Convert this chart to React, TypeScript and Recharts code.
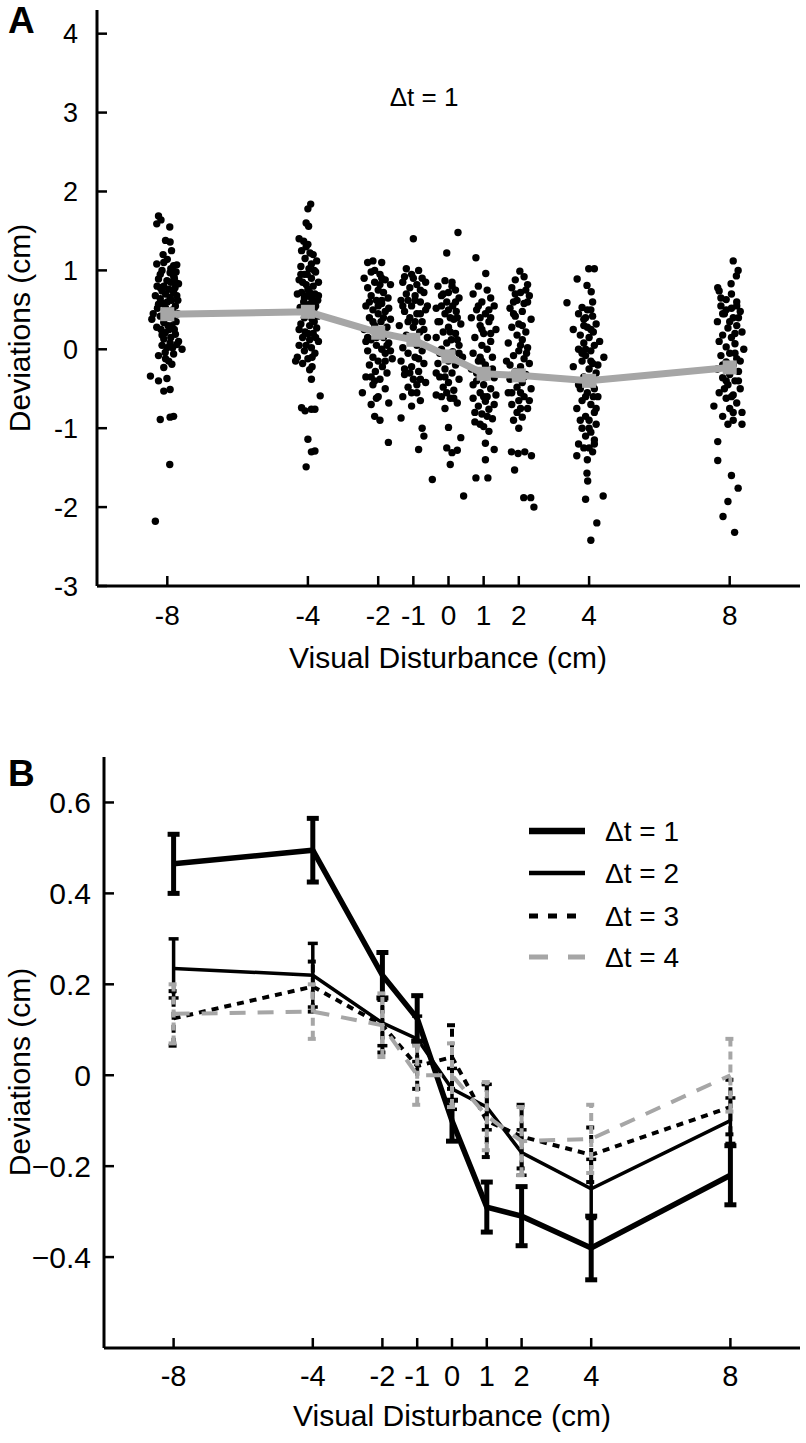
import React from "react";
import { ScatterChart, Scatter, LineChart, Line, XAxis, YAxis, ErrorBar } from "recharts";

const FONT = '"Liberation Sans", Arial, Helvetica, sans-serif';
const GRAY = "#a6a6a6";

const disturbance = [-8, -4, -2, -1, 0, 1, 2, 4, 8];
const yTicksA = [-3, -2, -1, 0, 1, 2, 3, 4];
const yTicksB = [-0.4, -0.2, 0, 0.2, 0.4, 0.6];

// panel A: mean deviation per visual disturbance (grey line)
const meanA = [0.445, 0.475, 0.21, 0.12, -0.09, -0.31, -0.33, -0.4, -0.23];

// panel A: single trials as [jitter, deviation]
const trialsM8 = [
  [-0.25, 1.69], [-0.18, 1.64], [-0.3, 1.59], [0.07, 1.55], [-0.05, 1.38], [0.08, 1.36], [0.12, 1.25], [0.0, 1.14],
  [-0.3, 1.08], [-0.1, 1.1], [0.18, 1.06], [0.27, 1.07], [-0.15, 1.0], [0.08, 0.97], [0.18, 0.93], [-0.25, 0.89],
  [-0.01, 0.87], [0.23, 0.85], [-0.29, 0.8], [-0.1, 0.8], [0.32, 0.83], [-0.15, 0.74], [0.04, 0.76], [0.18, 0.72],
  [-0.34, 0.68], [-0.2, 0.64], [0.08, 0.66], [0.27, 0.68], [-0.25, 0.57], [0.23, 0.55], [0.0, 0.6], [-0.05, 0.52],
  [0.15, 0.5], [-0.4, 0.45], [0.3, 0.45], [-0.44, 0.38], [-0.2, 0.42], [-0.1, 0.34], [0.13, 0.3], [0.25, 0.35],
  [-0.06, 0.21], [0.23, 0.19], [0.05, 0.25], [-0.1, 0.13], [0.08, 0.08], [0.27, 0.06], [-0.01, 0.02], [0.42, 0.0],
  [-0.25, -0.08], [-0.06, -0.04], [0.18, -0.06], [0.04, -0.15], [-0.1, -0.23], [0.13, -0.19], [-0.15, 0.05], [0.1, 0.15],
  [-0.48, -0.34], [-0.25, -0.4], [-0.01, -0.37], [-0.1, -0.53], [0.08, -0.51], [-0.2, -0.89], [0.08, -0.86], [0.18, -0.85],
  [0.07, -1.46], [-0.34, -2.18], [0.2, 0.9], [-0.2, 0.95], [0.1, 0.85], [-0.05, 0.7], [0.3, 0.62], [-0.12, 0.58],
  [0.15, 0.4], [-0.3, 0.28], [0.05, 0.45], [0.2, 0.25], [-0.15, 0.18], [0.32, 0.1], [-0.2, 0.78], [0.12, 0.62],
  [-0.08, 0.48], [0.22, 0.78], [-0.28, 0.52], [0.02, 0.3], [-0.18, 0.25], [0.15, 0.02], [-0.05, -0.12], [0.25, 0.98],
  [-0.12, 1.2], [0.1, 1.02],
];
const trialsM4 = [
  [0.08, 1.84], [0.0, 1.78], [-0.05, 1.6], [0.02, 1.56], [-0.25, 1.4], [-0.12, 1.37], [0.0, 1.33], [-0.18, 1.25],
  [0.06, 1.22], [0.15, 1.2], [-0.08, 1.15], [0.25, 1.12], [0.1, 1.08], [-0.2, 1.05], [0.03, 1.02], [0.22, 0.98],
  [-0.1, 0.95], [0.1, 0.9], [-0.25, 0.88], [0.3, 0.85], [-0.05, 0.82], [0.15, 0.8], [0.0, 0.76], [-0.18, 0.72],
  [0.2, 0.7], [-0.05, 0.68], [0.1, 0.65], [0.28, 0.62], [-0.12, 0.6], [0.05, 0.57], [-0.22, 0.53], [0.18, 0.52],
  [0.0, 0.45], [-0.1, 0.4], [0.12, 0.38], [-0.2, 0.32], [0.05, 0.3], [0.25, 0.27], [-0.08, 0.22], [0.15, 0.2],
  [-0.15, 0.15], [0.05, 0.12], [0.3, 0.1], [-0.25, 0.05], [0.1, 0.02], [-0.1, -0.02], [0.2, -0.05], [-0.3, -0.1],
  [0.0, -0.12], [-0.15, -0.18], [0.12, -0.22], [-0.35, -0.15], [0.05, -0.26], [0.1, -0.38], [0.35, -0.59], [-0.18, -0.74],
  [-0.08, -0.78], [0.1, -0.76], [0.2, -0.76], [0.0, -1.14], [0.1, -1.3], [0.2, -1.29], [-0.05, -1.49], [-0.02, 0.95],
  [0.22, 0.55], [-0.3, 0.7], [0.08, 0.48], [-0.15, 0.85], [0.18, 0.35], [-0.05, 0.05], [0.28, 0.42], [-0.12, 0.5],
  [0.15, 0.62], [-0.25, 0.25], [0.05, 0.72], [0.22, 0.15], [-0.1, 0.65], [0.0, 0.2], [0.3, 0.68], [-0.2, 0.95],
  [0.12, -0.1], [-0.05, 1.3], [0.18, 1.0],
];
const trialsM2 = [
  [-0.3, 1.1], [-0.15, 1.12], [0.1, 1.1], [-0.4, 0.9], [-0.2, 0.98], [0.05, 0.95], [0.2, 0.88], [-0.1, 0.85],
  [0.35, 0.82], [-0.3, 0.78], [0.0, 0.75], [0.15, 0.72], [-0.2, 0.68], [0.28, 0.65], [-0.05, 0.62], [0.1, 0.58],
  [-0.35, 0.55], [-0.15, 0.5], [0.2, 0.48], [0.0, 0.45], [-0.25, 0.4], [0.35, 0.38], [0.08, 0.35], [-0.1, 0.3],
  [0.25, 0.28], [-0.4, 0.25], [0.0, 0.2], [0.15, 0.15], [-0.2, 0.12], [0.3, 0.08], [-0.05, 0.05], [0.1, 0.0],
  [-0.3, -0.02], [0.2, -0.05], [-0.15, -0.1], [0.0, -0.15], [0.4, -0.12], [-0.25, -0.2], [0.12, -0.22], [-0.08, -0.28],
  [0.25, -0.3], [-0.35, -0.35], [0.05, -0.38], [-0.15, -0.45], [0.2, -0.5], [-0.45, -0.55], [0.0, -0.6], [-0.2, -0.7],
  [0.3, -0.68], [-0.1, -0.85], [0.05, -0.9], [0.29, -1.18], [-0.15, 0.35], [0.1, 0.62], [-0.3, 0.15], [0.05, 0.82],
  [-0.1, -0.4], [0.25, 0.05], [-0.25, 0.6], [0.15, 0.4], [-0.05, 0.15], [0.3, 0.52], [-0.35, 0.1], [0.0, 0.55],
  [0.2, -0.15], [-0.2, -0.35], [0.1, 0.9], [-0.1, 1.0], [0.35, -0.02], [-0.05, -0.62],
];
const trialsM1 = [
  [0.0, 1.4], [0.15, 1.0], [-0.2, 1.02], [-0.05, 0.95], [0.25, 0.9], [-0.3, 0.85], [0.1, 0.82], [-0.1, 0.78],
  [0.3, 0.72], [-0.2, 0.7], [0.05, 0.68], [-0.35, 0.62], [0.2, 0.6], [-0.05, 0.55], [0.35, 0.5], [-0.25, 0.48],
  [0.1, 0.45], [-0.1, 0.4], [0.25, 0.35], [-0.4, 0.3], [0.0, 0.28], [0.18, 0.22], [-0.2, 0.18], [0.4, 0.15],
  [-0.05, 0.1], [0.1, 0.05], [-0.3, 0.02], [0.25, -0.02], [-0.15, -0.05], [0.05, -0.1], [-0.35, -0.15], [0.3, -0.18],
  [-0.05, -0.22], [0.15, -0.28], [-0.25, -0.32], [0.0, -0.38], [0.35, -0.42], [-0.15, -0.48], [0.1, -0.55], [-0.3, -0.6],
  [0.2, -0.65], [-0.05, -0.72], [-0.35, -0.87], [0.25, -1.0], [0.3, -1.1], [0.15, -1.27], [0.54, -1.65], [0.2, 0.75],
  [-0.15, 0.62], [0.05, 0.35], [-0.1, -0.3], [0.4, 0.55], [-0.25, 0.92], [0.1, -0.45], [-0.15, 0.35], [0.2, 0.45],
  [-0.3, 0.55], [0.05, 0.62], [0.3, 0.25], [-0.1, 0.15], [0.15, -0.12], [-0.25, -0.25], [0.0, 0.9], [0.35, 0.85],
  [-0.05, -0.55], [0.2, -0.38],
];
const trials0 = [
  [0.27, 1.48], [-0.05, 1.22], [-0.1, 0.87], [0.1, 0.85], [-0.3, 0.8], [0.2, 0.75], [0.0, 0.72], [-0.2, 0.68],
  [0.3, 0.65], [-0.05, 0.6], [0.12, 0.55], [-0.35, 0.52], [0.22, 0.48], [-0.1, 0.45], [0.05, 0.4], [-0.25, 0.35],
  [0.35, 0.32], [0.0, 0.28], [-0.15, 0.22], [0.2, 0.2], [-0.35, 0.15], [0.08, 0.12], [-0.05, 0.08], [0.3, 0.05],
  [-0.2, 0.0], [0.12, -0.03], [-0.1, -0.08], [0.4, -0.1], [0.0, -0.15], [-0.3, -0.18], [0.2, -0.2], [-0.1, -0.25],
  [0.1, -0.3], [-0.25, -0.35], [0.3, -0.38], [0.0, -0.42], [-0.15, -0.48], [0.15, -0.52], [-0.35, -0.58], [0.05, -0.62],
  [0.25, -0.68], [-0.1, -0.75], [0.0, -0.99], [0.35, -1.12], [-0.05, -1.25], [0.1, -1.31], [0.25, -1.28], [0.05, -1.46],
  [0.43, -1.86], [-0.2, 0.55], [0.15, 0.38], [-0.05, -0.55], [0.25, 0.12], [-0.25, -0.05], [-0.15, 0.7], [0.2, 0.6],
  [-0.3, 0.35], [0.05, 0.22], [0.3, -0.05], [-0.1, -0.35], [0.15, -0.62], [-0.2, -0.6], [0.0, 0.5], [0.1, 0.8],
  [-0.35, -0.3], [0.25, 0.4],
];
const trialsP1 = [
  [-0.22, 1.16], [0.06, 0.96], [-0.15, 0.8], [0.1, 0.75], [-0.3, 0.7], [0.2, 0.65], [-0.05, 0.6], [0.3, 0.55],
  [-0.2, 0.5], [0.05, 0.45], [-0.35, 0.4], [0.15, 0.35], [-0.1, 0.3], [0.35, 0.25], [0.0, 0.2], [-0.25, 0.15],
  [0.2, 0.1], [-0.05, 0.05], [0.1, 0.0], [-0.3, -0.05], [0.25, -0.1], [-0.15, -0.15], [0.05, -0.2], [-0.35, -0.25],
  [0.15, -0.28], [-0.05, -0.32], [0.3, -0.36], [-0.2, -0.4], [0.0, -0.45], [0.2, -0.5], [-0.1, -0.55], [0.35, -0.58],
  [-0.3, -0.62], [0.05, -0.66], [-0.15, -0.72], [0.15, -0.76], [-0.05, -0.82], [0.25, -0.88], [-0.25, -0.92], [0.0, -0.98],
  [0.15, -1.04], [0.05, -1.19], [0.3, -1.27], [0.05, -1.4], [-0.22, -1.63], [0.12, -1.63], [-0.1, 0.4], [0.1, -0.6],
  [-0.25, -0.8], [0.2, 0.2], [0.05, -0.35], [-0.1, -0.1], [-0.15, 0.55], [0.15, 0.5], [-0.05, 0.25], [0.25, -0.25],
  [-0.2, -0.3], [0.0, -0.6], [0.3, -0.7], [-0.3, -0.45], [0.1, -0.85], [-0.1, -0.95], [0.2, 0.4], [-0.05, -0.15],
];
const trialsP2 = [
  [0.03, 0.99], [0.15, 0.92], [-0.1, 0.88], [0.25, 0.82], [-0.2, 0.78], [0.05, 0.72], [0.3, 0.68], [-0.05, 0.62],
  [0.15, 0.58], [-0.25, 0.52], [0.1, 0.48], [-0.1, 0.42], [0.35, 0.38], [0.0, 0.32], [-0.2, 0.28], [0.2, 0.22],
  [-0.05, 0.18], [0.1, 0.12], [-0.3, 0.08], [0.25, 0.02], [0.0, -0.02], [-0.15, -0.08], [0.15, -0.12], [-0.35, -0.15],
  [0.3, -0.18], [0.05, -0.22], [-0.1, -0.28], [0.2, -0.32], [-0.25, -0.38], [0.1, -0.42], [-0.05, -0.48], [0.35, -0.5],
  [-0.3, -0.55], [0.15, -0.6], [0.0, -0.65], [-0.2, -0.7], [0.25, -0.75], [-0.05, -0.8], [0.1, -0.86], [-0.15, -0.9],
  [-0.21, -1.3], [-0.02, -1.32], [0.17, -1.3], [0.36, -1.35], [-0.12, -1.53], [0.14, -1.88], [0.34, -1.88], [0.43, -2.0],
  [0.1, 0.3], [-0.15, 0.6], [0.05, -0.55], [0.22, -0.05], [-0.15, 0.45], [0.25, 0.6], [0.05, 0.05], [-0.25, -0.2],
  [0.15, -0.35], [-0.05, -0.35], [0.3, -0.65], [-0.2, -0.55], [0.05, -0.75], [0.2, 0.75], [-0.1, 0.7], [0.0, -1.0],
];
const trialsP4 = [
  [-0.01, 1.02], [0.15, 1.02], [-0.34, 0.89], [-0.06, 0.81], [0.06, 0.73], [-0.63, 0.59], [-0.2, 0.53], [0.05, 0.5],
  [-0.3, 0.45], [0.1, 0.42], [-0.15, 0.38], [0.2, 0.32], [-0.05, 0.28], [-0.45, 0.25], [0.12, 0.22], [-0.25, 0.18],
  [0.0, 0.15], [0.3, 0.1], [-0.15, 0.08], [0.15, 0.05], [-0.3, 0.0], [0.05, -0.02], [-0.1, -0.08], [0.42, -0.1],
  [-0.2, -0.15], [0.1, -0.18], [-0.45, -0.22], [0.0, -0.25], [0.2, -0.3], [-0.15, -0.35], [0.05, -0.4], [-0.3, -0.45],
  [0.15, -0.5], [-0.05, -0.55], [0.25, -0.6], [-0.2, -0.65], [0.05, -0.7], [-0.35, -0.75], [0.15, -0.8], [-0.1, -0.85],
  [0.0, -0.9], [0.2, -0.95], [-0.2, -1.0], [0.05, -1.05], [-0.1, -1.1], [0.15, -1.15], [-0.3, -1.2], [0.0, -1.25],
  [0.1, -1.3], [-0.35, -1.35], [-0.05, -1.4], [-0.06, -1.57], [-0.04, -1.67], [-0.1, -1.9], [0.4, -1.86], [0.22, -2.2],
  [0.05, -2.42], [0.1, 0.6], [-0.1, 0.0], [0.12, -0.6], [-0.25, -0.9], [0.25, -0.2], [-0.15, 0.3], [-0.1, 0.4],
  [0.05, 0.25], [-0.2, -0.05], [0.1, -0.45], [-0.1, -0.6], [0.2, -0.75], [-0.25, -0.5], [0.0, -1.0], [0.15, -1.2],
  [-0.15, -1.25], [0.05, -0.15], [-0.05, 0.5],
];
const trialsP8 = [
  [0.1, 1.12], [0.24, 1.0], [0.19, 0.93], [-0.34, 0.78], [-0.3, 0.74], [0.04, 0.83], [-0.1, 0.63], [0.2, 0.6],
  [-0.25, 0.55], [0.05, 0.52], [0.3, 0.48], [-0.15, 0.45], [0.1, 0.4], [-0.35, 0.35], [0.2, 0.3], [-0.05, 0.27],
  [0.35, 0.22], [-0.2, 0.18], [0.05, 0.15], [-0.3, 0.1], [0.15, 0.07], [-0.1, 0.03], [0.4, 0.0], [0.0, -0.05],
  [-0.25, -0.08], [0.2, -0.12], [-0.1, -0.16], [0.1, -0.2], [-0.35, -0.25], [0.25, -0.28], [0.0, -0.32], [-0.2, -0.36],
  [0.15, -0.4], [-0.05, -0.45], [0.3, -0.5], [-0.3, -0.55], [0.1, -0.58], [-0.1, -0.62], [0.2, -0.68], [-0.45, -0.72],
  [0.0, -0.75], [0.35, -0.8], [-0.2, -0.85], [0.1, -0.9], [0.35, -0.95], [-0.34, -1.17], [-0.34, -1.41], [0.05, -1.6],
  [0.24, -1.76], [-0.05, -1.93], [-0.19, -2.12], [0.14, -2.32], [0.05, 0.7], [-0.1, -0.4], [0.15, -0.05], [0.25, 0.4],
  [-0.2, 0.45], [-0.1, 0.5], [0.15, 0.2], [-0.2, -0.2], [0.05, -0.6], [-0.15, -0.5], [0.25, -0.4], [0.0, 0.35],
  [0.1, -0.8], [-0.25, 0.65], [0.2, 0.55], [-0.05, -0.95], [0.3, -0.15],
];
const trialsA = [trialsM8, trialsM4, trialsM2, trialsM1, trials0, trialsP1, trialsP2, trialsP4, trialsP8];

// panel B: mean deviation and error per delay
const dt1 = [0.465, 0.495, 0.22, 0.125, -0.1, -0.29, -0.31, -0.38, -0.22];
const dt1Err = [0.065, 0.07, 0.05, 0.05, 0.045, 0.055, 0.065, 0.07, 0.065];
const dt2 = [0.235, 0.22, 0.115, 0.08, -0.03, -0.07, -0.17, -0.25, -0.1];
const dt2Err = [0.065, 0.07, 0.05, 0.05, 0.045, 0.05, 0.05, 0.065, 0.05];
const dt3 = [0.125, 0.195, 0.11, 0.02, 0.04, -0.1, -0.135, -0.175, -0.07];
const dt3Err = [0.06, 0.055, 0.06, 0.05, 0.07, 0.08, 0.07, 0.06, 0.06];
const dt4 = [0.135, 0.14, 0.11, 0.0, 0.0, -0.09, -0.145, -0.14, 0.0];
const dt4Err = [0.065, 0.06, 0.07, 0.065, 0.07, 0.075, 0.075, 0.075, 0.08];
const legendNames = ["\u0394t = 1", "\u0394t = 2", "\u0394t = 3", "\u0394t = 4"];

const trialPoints = trialsA.flatMap((col, i) => col.map(([dx, y]) => ({ x: disturbance[i] + dx, y })));
const meanPoints = disturbance.map((x, i) => ({ x, y: meanA[i] }));
const rowsB = disturbance.map((x, i) => ({
  x,
  dt1: dt1[i], dt1Err: dt1Err[i],
  dt2: dt2[i], dt2Err: dt2Err[i],
  dt3: dt3[i], dt3Err: dt3Err[i],
  dt4: dt4[i], dt4Err: dt4Err[i],
}));

const seriesB = [
  { key: "dt1", color: "#000", width: 5.5, dash: undefined, errW: 5, cap: 6 },
  { key: "dt2", color: "#000", width: 3.5, dash: undefined, errW: 3.5, cap: 5 },
  { key: "dt3", color: "#000", width: 4, dash: "7 6", errW: 4, cap: 5 },
  { key: "dt4", color: GRAY, width: 4, dash: "16 12", errW: 4, cap: 5 },
];

const txt = { fontFamily: FONT, fill: "#000" };
const minus = (v: number) => (v < 0 ? "\u2212" + Math.abs(v) : String(v));

const xTick = (size: number, dy: number) => (p: any) => (
  <g>
    <line x1={p.x} y1={p.y} x2={p.x} y2={p.y - 10} stroke="#000" strokeWidth={2.5} />
    <text x={p.x} y={p.y + dy} textAnchor="middle" fontSize={size} {...txt}>
      {String(p.payload.value)}
    </text>
  </g>
);

const yTick = (size: number, gap: number, fmt: (v: number) => string) => (p: any) => (
  <g>
    <line x1={p.x} y1={p.y} x2={p.x + 10} y2={p.y} stroke="#000" strokeWidth={2.5} />
    <text x={p.x - gap} y={p.y + size * 0.36} textAnchor="end" fontSize={size} {...txt}>
      {fmt(p.payload.value)}
    </text>
  </g>
);

const DotMark = (p: any) => <circle cx={p.cx} cy={p.cy} r={3.7} fill="#000" />;
const SquareMark = (p: any) => <rect x={p.cx - 7} y={p.cy - 7} width={14} height={14} fill={GRAY} />;

export default function App() {
  return (
    <div style={{ position: "absolute", left: 0, top: 0, width: 806, height: 1443, background: "#fff" }}>
      <div style={{ position: "absolute", left: 0, top: 0 }}>
        <ScatterChart width={806} height={680} margin={{ top: 10, right: 6, bottom: 0, left: 0 }}>
          <XAxis
            type="number"
            dataKey="x"
            domain={[-10, 10]}
            ticks={disturbance}
            allowDataOverflow
            height={94}
            tickSize={0}
            tickMargin={0}
            tickLine={false}
            axisLine={{ stroke: "#000", strokeWidth: 3 }}
            tick={xTick(28, 39)}
            interval={0}
          />
          <YAxis
            type="number"
            dataKey="y"
            domain={[-3, 4.3]}
            ticks={yTicksA}
            allowDataOverflow
            width={97}
            tickSize={0}
            tickMargin={0}
            tickLine={false}
            axisLine={{ stroke: "#000", strokeWidth: 3 }}
            tick={yTick(27, 19, (v) => String(v))}
            interval={0}
          />
          <Scatter data={trialPoints} shape={DotMark} isAnimationActive={false} />
          <Scatter
            data={meanPoints}
            line={{ stroke: GRAY, strokeWidth: 7 }}
            shape={SquareMark}
            isAnimationActive={false}
          />
          <text x={8} y={33} style={{ fontSize: 37, fontWeight: 700 }} {...txt}>A</text>
          <text x={424} y={106} fontSize={26} textAnchor="middle" {...txt}>{"\u0394t = 1"}</text>
          <text x={448} y={668} fontSize={30} textAnchor="middle" {...txt}>Visual Disturbance (cm)</text>
          <text x={30} y={328} fontSize={30} textAnchor="middle" transform="rotate(-90 30 328)" {...txt}>
            Deviations (cm)
          </text>
        </ScatterChart>
      </div>
      <div style={{ position: "absolute", left: 0, top: 700 }}>
        <LineChart data={rowsB} width={806} height={743} margin={{ top: 57, right: 6, bottom: 0, left: 0 }}>
          <XAxis
            type="number"
            dataKey="x"
            domain={[-10, 10]}
            ticks={disturbance}
            allowDataOverflow
            height={95}
            tickSize={0}
            tickMargin={0}
            tickLine={false}
            axisLine={{ stroke: "#000", strokeWidth: 3 }}
            tick={xTick(29, 38)}
            interval={0}
          />
          <YAxis
            type="number"
            domain={[-0.6, 0.7]}
            ticks={yTicksB}
            allowDataOverflow
            width={104}
            tickSize={0}
            tickMargin={0}
            tickLine={false}
            axisLine={{ stroke: "#000", strokeWidth: 3 }}
            tick={yTick(30, 13, minus)}
            interval={0}
          />
          {seriesB.map((s, i) => (
            <Line
              key={s.key}
              dataKey={s.key}
              name={legendNames[i]}
              type="linear"
              stroke={s.color}
              strokeWidth={s.width}
              strokeDasharray={s.dash}
              dot={false}
              activeDot={false}
              isAnimationActive={false}
            >
              <ErrorBar
                dataKey={s.key + "Err"}
                direction="y"
                width={s.cap}
                stroke={s.color}
                strokeWidth={s.errW}
                strokeDasharray={s.dash ? "8 5" : undefined}
              />
            </Line>
          ))}
          <text x={8} y={86} style={{ fontSize: 37, fontWeight: 700 }} {...txt}>B</text>
          {seriesB.map((s, i) => {
            const y = [131, 173, 216, 257][i];
            return (
              <g key={"lg" + s.key}>
                <line x1={529} y1={y} x2={585} y2={y} stroke={s.color} strokeWidth={s.width + 1}
                  strokeDasharray={s.key === "dt3" ? "9 10" : s.key === "dt4" ? "19 20" : undefined} />
                <text x={605} y={y + 10} fontSize={28} {...txt}>{legendNames[i]}</text>
              </g>
            );
          })}
          <text x={452} y={726} fontSize={30} textAnchor="middle" {...txt}>Visual Disturbance (cm)</text>
          <text x={30} y={372} fontSize={30} textAnchor="middle" transform="rotate(-90 30 372)" {...txt}>
            Deviations (cm)
          </text>
        </LineChart>
      </div>
    </div>
  );
}
